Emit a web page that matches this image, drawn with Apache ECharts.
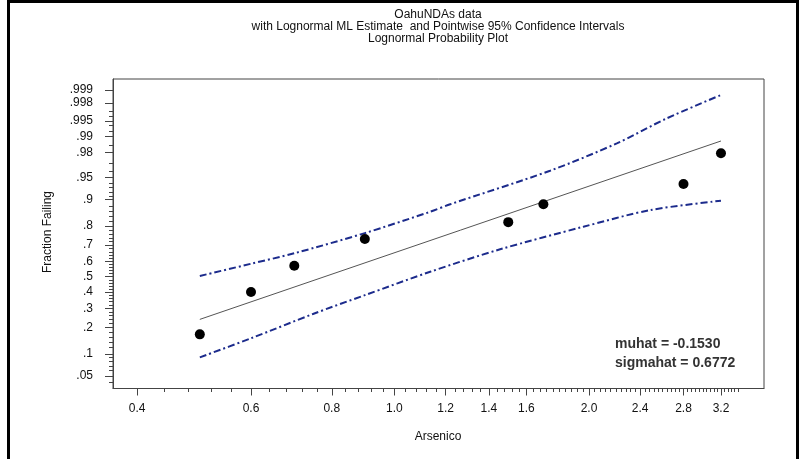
<!DOCTYPE html>
<html>
<head>
<meta charset="utf-8">
<script src="https://cdn.jsdelivr.net/npm/echarts@6/dist/echarts.min.js"></script>
<style>
html,body{margin:0;padding:0;background:#fff;}
#chart{width:801px;height:459px;}
</style>
</head>
<body>
<div id="chart"></div>
<script>
// ---- data ----
const obsX = [0.50, 0.60, 0.70, 0.90, 1.50, 1.70, 2.80, 3.20];
const obsP = [0.170, 0.400, 0.572, 0.734, 0.817, 0.885, 0.9376, 0.9795];

const fitX = [0.50, 3.20];
const fitP = [0.240, 0.9877];

const upperX = [0.50, 0.60, 0.70, 0.90, 1.136, 1.22, 1.741, 2.208, 2.638, 3.20];
const upperP = [0.505, 0.585, 0.651, 0.765, 0.859, 0.885, 0.9604, 0.9864, 0.99564, 0.99869];

const lowerX = [0.50, 0.60, 0.75, 0.90, 1.136, 1.457, 1.96, 2.486, 3.20];
const lowerP = [0.091, 0.154, 0.27, 0.38, 0.533, 0.675, 0.796, 0.865, 0.896];

const xTickValues = [0.4, 0.6, 0.8, 1.0, 1.2, 1.4, 1.6, 2.0, 2.4, 2.8, 3.2];
const xTickLabels = ['0.4', '0.6', '0.8', '1.0', '1.2', '1.4', '1.6', '2.0', '2.4', '2.8', '3.2'];

const yTickValues = [0.05, 0.1, 0.2, 0.3, 0.4, 0.5, 0.6, 0.7, 0.8, 0.9, 0.95, 0.98, 0.99, 0.995, 0.998, 0.999];
const yTickLabels = ['.05', '.1', '.2', '.3', '.4', '.5', '.6', '.7', '.8', '.9', '.95', '.98', '.99', '.995', '.998', '.999'];

const yMinorValues = [0.04, 0.06, 0.07, 0.08, 0.09, 0.12, 0.14, 0.16, 0.18, 0.22, 0.24, 0.26, 0.28,
  0.32, 0.34, 0.36, 0.38, 0.42, 0.44, 0.46, 0.48, 0.52, 0.54, 0.56, 0.58, 0.62, 0.64, 0.66, 0.68,
  0.72, 0.74, 0.76, 0.78, 0.82, 0.84, 0.86, 0.88, 0.91, 0.92, 0.93, 0.94, 0.96, 0.97, 0.985,
  0.992, 0.994, 0.996, 0.997];

const xRange = [0.367, 3.73];
const pRange = [0.0321, 0.99947];

const muText = 'muhat = -0.1530';
const sigmaText = 'sigmahat = 0.6772';

// ---- helpers ----
function qnorm(p) {
  const a = [-3.969683028665376e+01, 2.209460984245205e+02, -2.759285104469687e+02, 1.383577518672690e+02, -3.066479806614716e+01, 2.506628277459239e+00];
  const b = [-5.447609879822406e+01, 1.615858368580409e+02, -1.556989798598866e+02, 6.680131188771972e+01, -1.328068155288572e+01];
  const c = [-7.784894002430293e-03, -3.223964580411365e-01, -2.400758277161838e+00, -2.549732539343734e+00, 4.374664141464968e+00, 2.938163982698783e+00];
  const d = [7.784695709041462e-03, 3.224671290700398e-01, 2.445134137142996e+00, 3.754408661907416e+00];
  const pl = 0.02425, ph = 1 - pl;
  let q, r;
  if (p < pl) {
    q = Math.sqrt(-2 * Math.log(p));
    return (((((c[0]*q+c[1])*q+c[2])*q+c[3])*q+c[4])*q+c[5]) / ((((d[0]*q+d[1])*q+d[2])*q+d[3])*q+1);
  }
  if (p <= ph) {
    q = p - 0.5; r = q * q;
    return (((((a[0]*r+a[1])*r+a[2])*r+a[3])*r+a[4])*r+a[5])*q / (((((b[0]*r+b[1])*r+b[2])*r+b[3])*r+b[4])*r+1);
  }
  q = Math.sqrt(-2 * Math.log(1 - p));
  return -(((((c[0]*q+c[1])*q+c[2])*q+c[3])*q+c[4])*q+c[5]) / ((((d[0]*q+d[1])*q+d[2])*q+d[3])*q+1);
}
const lx = v => Math.log10(v);
const pairs = (xs, ps) => xs.map((x, i) => [lx(x), qnorm(ps[i])]);
function nearestLabel(v, vals, labels) {
  let best = 0, bd = Infinity;
  vals.forEach((t, i) => { const d = Math.abs(t - v); if (d < bd) { bd = d; best = i; } });
  return labels[best];
}

const xMajT = xTickValues.map(lx);
const xMinorValues = [];
for (let k = 0; k <= 75; k++) { xMinorValues.push(+(0.4 + 0.04 * k).toFixed(2)); }
const xMinT = xMinorValues.map(lx);
const yMajT = yTickValues.map(qnorm);
const yMinT = yMinorValues.filter(p => p > pRange[0]).map(qnorm);

const FONT = '"Liberation Sans", Arial, sans-serif';
const AX = '#444';

const chart = echarts.init(document.getElementById('chart'), null, {renderer: 'canvas'});
const xMin = lx(xRange[0]), xMax = lx(xRange[1]);
const yMin = qnorm(pRange[0]), yMax = qnorm(pRange[1]);

const option = {
  animation: false,
  backgroundColor: '#fff',
  grid: {left: 113, right: 37, top: 79, bottom: 70.5, show: true, borderColor: AX, borderWidth: 1, backgroundColor: 'transparent'},
  xAxis: [
    {
      type: 'value', min: xMin, max: xMax, position: 'bottom',
      axisLine: {show: true, onZero: false, lineStyle: {color: AX, width: 1}},
      axisTick: {show: true, customValues: xMajT, length: 7, lineStyle: {color: AX}},
      axisLabel: {show: true, customValues: xMajT, margin: 14, color: '#111', fontSize: 12, fontFamily: FONT,
        formatter: v => nearestLabel(v, xMajT, xTickLabels)},
      splitLine: {show: false}
    },
    {
      type: 'value', min: xMin, max: xMax, position: 'bottom',
      axisLine: {show: false, onZero: false},
      axisTick: {show: true, customValues: xMinT.filter(v => v >= xMin && v <= xMax), length: 3.5, lineStyle: {color: AX}},
      axisLabel: {show: false},
      splitLine: {show: false}
    }
  ],
  yAxis: [
    {
      type: 'value', min: yMin, max: yMax, position: 'left',
      axisLine: {show: true, onZero: false, lineStyle: {color: AX, width: 1}},
      axisTick: {show: true, customValues: yMajT, length: 8, lineStyle: {color: AX}},
      axisLabel: {show: true, customValues: yMajT, margin: 20, color: '#111', fontSize: 12, fontFamily: FONT,
        formatter: v => nearestLabel(v, yMajT, yTickLabels)},
      splitLine: {show: false}
    },
    {
      type: 'value', min: yMin, max: yMax, position: 'left',
      axisLine: {show: false, onZero: false},
      axisTick: {show: true, customValues: yMinT, length: 4, lineStyle: {color: AX}},
      axisLabel: {show: false},
      splitLine: {show: false}
    }
  ],
  series: [
    {
      type: 'line', data: pairs(upperX, upperP), smooth: 0.3, showSymbol: false, symbol: 'none',
      lineStyle: {color: '#1c2b8c', width: 2, type: [7, 3, 2, 3]}, z: 2
    },
    {
      type: 'line', data: pairs(lowerX, lowerP), smooth: 0.3, showSymbol: false, symbol: 'none',
      lineStyle: {color: '#1c2b8c', width: 2, type: [7, 3, 2, 3]}, z: 2
    },
    {
      type: 'line', data: pairs(fitX, fitP), showSymbol: false, symbol: 'none',
      lineStyle: {color: '#555', width: 1}, z: 3
    },
    {
      type: 'scatter', data: pairs(obsX, obsP), symbol: 'circle', symbolSize: 10,
      itemStyle: {color: '#000', opacity: 1}, z: 4
    }
  ],
  graphic: [
    {type: 'rect', shape: {x: 8.5, y: 1.5, width: 789, height: 470}, style: {fill: 'none', stroke: '#000', lineWidth: 3}, silent: true},
    {type: 'text', x: 438, y: 15, style: {text: 'OahuNDAs data', textAlign: 'center', textVerticalAlign: 'middle', font: '12px ' + FONT, fill: '#111'}},
    {type: 'text', x: 438, y: 27, style: {text: 'with Lognormal ML Estimate  and Pointwise 95% Confidence Intervals', textAlign: 'center', textVerticalAlign: 'middle', font: '12px ' + FONT, fill: '#111'}},
    {type: 'text', x: 438, y: 38.5, style: {text: 'Lognormal Probability Plot', textAlign: 'center', textVerticalAlign: 'middle', font: '12px ' + FONT, fill: '#111'}},
    {type: 'text', x: 48, y: 232, rotation: Math.PI / 2, style: {text: 'Fraction Failing', textAlign: 'center', textVerticalAlign: 'middle', font: '12px ' + FONT, fill: '#111'}},
    {type: 'text', x: 438, y: 437, style: {text: 'Arsenico', textAlign: 'center', textVerticalAlign: 'middle', font: '12px ' + FONT, fill: '#111'}},
    {type: 'text', x: 615, y: 344, style: {text: muText, textAlign: 'left', textVerticalAlign: 'middle', font: 'bold 14px ' + FONT, fill: '#333'}},
    {type: 'text', x: 615, y: 363, style: {text: sigmaText, textAlign: 'left', textVerticalAlign: 'middle', font: 'bold 14px ' + FONT, fill: '#333'}}
  ]
};
chart.setOption(option);
</script>
</body>
</html>
